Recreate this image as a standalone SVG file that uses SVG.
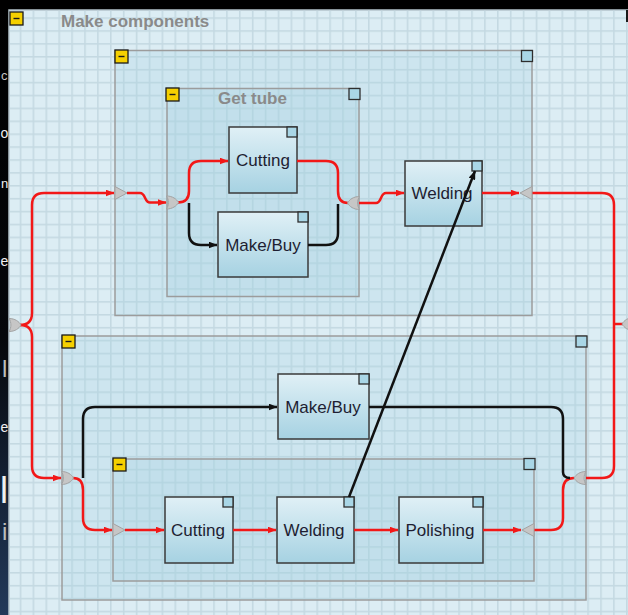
<svg xmlns="http://www.w3.org/2000/svg" width="628" height="615" viewBox="0 0 628 615">
  <defs>
    <style>
      .frame { fill: #a3d0e0; fill-opacity: 0.26; stroke: #9c9c9c; stroke-width: 1.5; }
      .collapse { fill: #f5d000; stroke: #1a1a1a; stroke-width: 1.3; }
      .minus { stroke: #1a1a1a; stroke-width: 1.4; }
      .corner { fill: #a9d6e6; stroke: #2e2e2e; stroke-width: 1.3; }
      .box { fill: url(#boxFill); stroke: #3a3a3a; stroke-width: 1.5; }
      .label { font-family: "Liberation Sans", Arial, sans-serif; font-size: 17px; fill: #1e1e32; text-anchor: middle; }
      .title { font-family: "Liberation Sans", Arial, sans-serif; font-size: 17px; font-weight: bold; fill: #8a8a8a; }
      .port { fill: #c6c6c6; stroke: #a2a2a2; stroke-width: 1; }
      .flow { fill: none; stroke: #f21818; stroke-width: 2.5; stroke-linejoin: round; }
      .flow.arrow { marker-end: url(#arrRed); }
      .link { fill: none; stroke: #111; stroke-width: 2.5; stroke-linejoin: round; }
      .link.arrow { marker-end: url(#arrBlack); }
      .bgtext { font-family: "Liberation Sans", Arial, sans-serif; }
    </style>
    <linearGradient id="boxFill" x1="0" y1="0" x2="0" y2="1">
      <stop offset="0" stop-color="#e0f0f6"/>
      <stop offset="1" stop-color="#a6d2e2"/>
    </linearGradient>
    <linearGradient id="desk" x1="0" y1="0" x2="0" y2="1">
      <stop offset="0" stop-color="#000"/>
      <stop offset="0.55" stop-color="#05070b"/>
      <stop offset="1" stop-color="#23395a"/>
    </linearGradient>
    <pattern id="grid" width="12.9" height="12.9" patternUnits="userSpaceOnUse" x="6.8" y="4.4">
      <rect x="0" y="0" width="12.9" height="1.6" fill="#c4d9e2"/>
      <rect x="0" y="0" width="1.6" height="12.9" fill="#c4d9e2"/>
    </pattern>
    <marker id="arrRed" markerUnits="userSpaceOnUse" markerWidth="9" markerHeight="7" refX="8.5" refY="3.5" orient="auto">
      <path d="M0,0 L9,3.5 L0,7 Z" fill="#f21818"/>
    </marker>
    <marker id="arrBlack" markerUnits="userSpaceOnUse" markerWidth="9" markerHeight="7" refX="8.5" refY="3.5" orient="auto">
      <path d="M0,0 L9,3.5 L0,7 Z" fill="#111"/>
    </marker>
    <!-- junction gate, left-middle at origin -->
    <path id="gate" d="M0,-6.5 C6,-6.5 10,-3.5 12,0 C10,3.5 6,6.5 0,6.5 C2.5,3 2.5,-3 0,-6.5 Z"/>
    <!-- port triangle, left-middle at origin -->
    <path id="tri" d="M0,-6.5 L12,0 L0,6.5 Z"/>
    <g id="btn">
      <rect class="collapse" x="0" y="0" width="13" height="13"/>
      <line class="minus" x1="3.5" y1="6.5" x2="9.5" y2="6.5"/>
    </g>
  </defs>

  <!-- desktop behind the window -->
  <rect x="0" y="0" width="628" height="615" fill="url(#desk)"/>
  <rect x="0" y="0" width="628" height="10" fill="#000"/>
  <g class="bgtext">
    <text x="1" y="80" font-size="13" fill="#c4c4c4">c</text>
    <text x="0.5" y="138" font-size="14" fill="#f0f0f0">o</text>
    <text x="1" y="188" font-size="13" fill="#f0f0f0">n</text>
    <text x="0.5" y="266" font-size="14" fill="#f0f0f0">e</text>
    <text x="2" y="377" font-size="24" fill="#bdbdbd">l</text>
    <text x="0.5" y="432" font-size="14" fill="#f0f0f0">e</text>
    <text x="0" y="503" font-size="36" fill="#f0f0f0">l</text>
    <text x="2" y="540" font-size="24" fill="#bdbdbd">i</text>
  </g>

  <!-- canvas with grid -->
  <rect x="9" y="10" width="620" height="606" fill="#dcedf4" stroke="#b4c4cb" stroke-width="1.5"/>
  <rect x="9.75" y="10.75" width="619" height="605" fill="url(#grid)"/>
  <rect x="626" y="10" width="2" height="12" fill="#1a1a1a"/>

  <!-- top-level process -->
  <g id="make-components">
    <use href="#btn" x="10" y="12"/>
    <text class="title" x="61" y="26.5">Make components</text>
  </g>

  <!-- upper sub-process -->
  <g id="upper-frame">
    <rect class="frame" x="115" y="50.5" width="417" height="265"/>
    <use href="#btn" x="115" y="50"/>
    <rect class="corner" x="521.5" y="50.5" width="11" height="11"/>
  </g>
  <g id="get-tube">
    <rect class="frame" x="167" y="88.5" width="192" height="208"/>
    <use href="#btn" x="166" y="88"/>
    <rect class="corner" x="349" y="88.5" width="11" height="11"/>
    <text class="title" x="218" y="104">Get tube</text>
  </g>

  <!-- lower sub-process -->
  <g id="lower-frame">
    <rect class="frame" x="62" y="336" width="524" height="264"/>
    <use href="#btn" x="62" y="335"/>
    <rect class="corner" x="576" y="336" width="11" height="11"/>
  </g>
  <g id="lower-inner-frame">
    <rect class="frame" x="113" y="459" width="421" height="122"/>
    <use href="#btn" x="113" y="458"/>
    <rect class="corner" x="524" y="458.5" width="11" height="11"/>
  </g>

  <!-- tasks -->
  <g id="cutting-top">
    <rect class="box" x="229" y="127" width="68" height="66"/>
    <rect class="corner" x="287" y="127" width="10" height="10"/>
    <text class="label" x="263" y="166">Cutting</text>
  </g>
  <g id="makebuy-top">
    <rect class="box" x="218" y="212" width="90" height="65"/>
    <rect class="corner" x="298" y="212" width="10" height="10"/>
    <text class="label" x="263" y="250.5">Make/Buy</text>
  </g>
  <g id="welding-top">
    <rect class="box" x="405" y="161" width="77" height="65"/>
    <rect class="corner" x="472" y="161" width="10" height="10"/>
    <text class="label" x="442" y="199">Welding</text>
  </g>
  <g id="makebuy-bottom">
    <rect class="box" x="278" y="374" width="91" height="65"/>
    <rect class="corner" x="359" y="374" width="10" height="10"/>
    <text class="label" x="323" y="413">Make/Buy</text>
  </g>
  <g id="cutting-bottom">
    <rect class="box" x="165" y="497" width="68" height="66"/>
    <rect class="corner" x="223" y="497" width="10" height="10"/>
    <text class="label" x="198" y="536">Cutting</text>
  </g>
  <g id="welding-bottom">
    <rect class="box" x="277" y="497" width="77" height="66"/>
    <rect class="corner" x="344" y="497" width="10" height="10"/>
    <text class="label" x="314" y="536">Welding</text>
  </g>
  <g id="polishing">
    <rect class="box" x="399" y="497" width="84" height="66"/>
    <rect class="corner" x="473" y="497" width="10" height="10"/>
    <text class="label" x="440" y="536">Polishing</text>
  </g>

  <!-- connectors -->
  <g id="connectors">
    <!-- outer split to both sub-processes -->
    <path class="flow arrow" d="M20,325 Q32,325 32,313 V205 Q32,193 44,193 H114"/>
    <path class="flow arrow" d="M20,325 Q32,325 32,337 V466 Q32,478 44,478 H61"/>
    <!-- upper flow -->
    <path class="flow arrow" d="M127,193 H140 C146,193 144,202.5 150,202.5 H166"/>
    <path class="link arrow" d="M189,203 V233 Q189,245 201,245 H217"/>
    <path class="flow arrow" d="M178,202.5 Q189,202.5 189,191 V173 Q189,161 201,161 H228"/>
    <path class="flow" d="M297,161 H326 Q338,161 338,173 V191 Q338,203 348,203"/>
    <path class="link" d="M308,245 H326 Q338,245 338,233 V204"/>
    <path class="flow arrow" d="M359,203 H376 C382,203 380,193 386,193 H404"/>
    <path class="flow arrow" d="M482,193 H519"/>
    <!-- outputs joining on the right -->
    <path class="flow" d="M532,193 H602 Q614,193 614,205 V466 Q614,478 602,478 H586"/>
    <path class="flow" d="M614,324 H623"/>
    <!-- lower flow -->
    <path class="link arrow" d="M83,478 V419 Q83,407 95,407 H277"/>
    <path class="flow arrow" d="M73,478 Q83,478 83,490 V518 Q83,530 95,530 H112"/>
    <path class="flow arrow" d="M125,530 H164"/>
    <path class="flow arrow" d="M233,530 H276"/>
    <path class="flow arrow" d="M354,530 H398"/>
    <path class="flow arrow" d="M483,530 H521"/>
    <path class="flow" d="M534,530 H551 Q563,530 563,518 V490 Q563,478 574,478"/>
    <path class="link" d="M369,407 H551 Q563,407 563,419 V472 Q563,478 570,478"/>
    <!-- cross link -->
    <path class="link arrow" d="M349,497 L475,171"/>
  </g>

  <!-- junction gates and ports -->
  <g id="gates">
    <use class="port" href="#gate" transform="translate(9,325)"/>
    <use class="port" href="#gate" transform="translate(166.5,202.5)"/>
    <use class="port" href="#gate" transform="translate(359.5,203) scale(-1,1)"/>
    <use class="port" href="#gate" transform="translate(61.5,478)"/>
    <use class="port" href="#gate" transform="translate(586,478) scale(-1,1)"/>
    <use class="port" href="#gate" transform="translate(634,324) scale(-1,1)"/>
    <use class="port" href="#tri" transform="translate(115,193)"/>
    <use class="port" href="#tri" transform="translate(532,193) scale(-1,1)"/>
    <use class="port" href="#tri" transform="translate(113,530)"/>
    <use class="port" href="#tri" transform="translate(534,530) scale(-1,1)"/>
  </g>
</svg>
